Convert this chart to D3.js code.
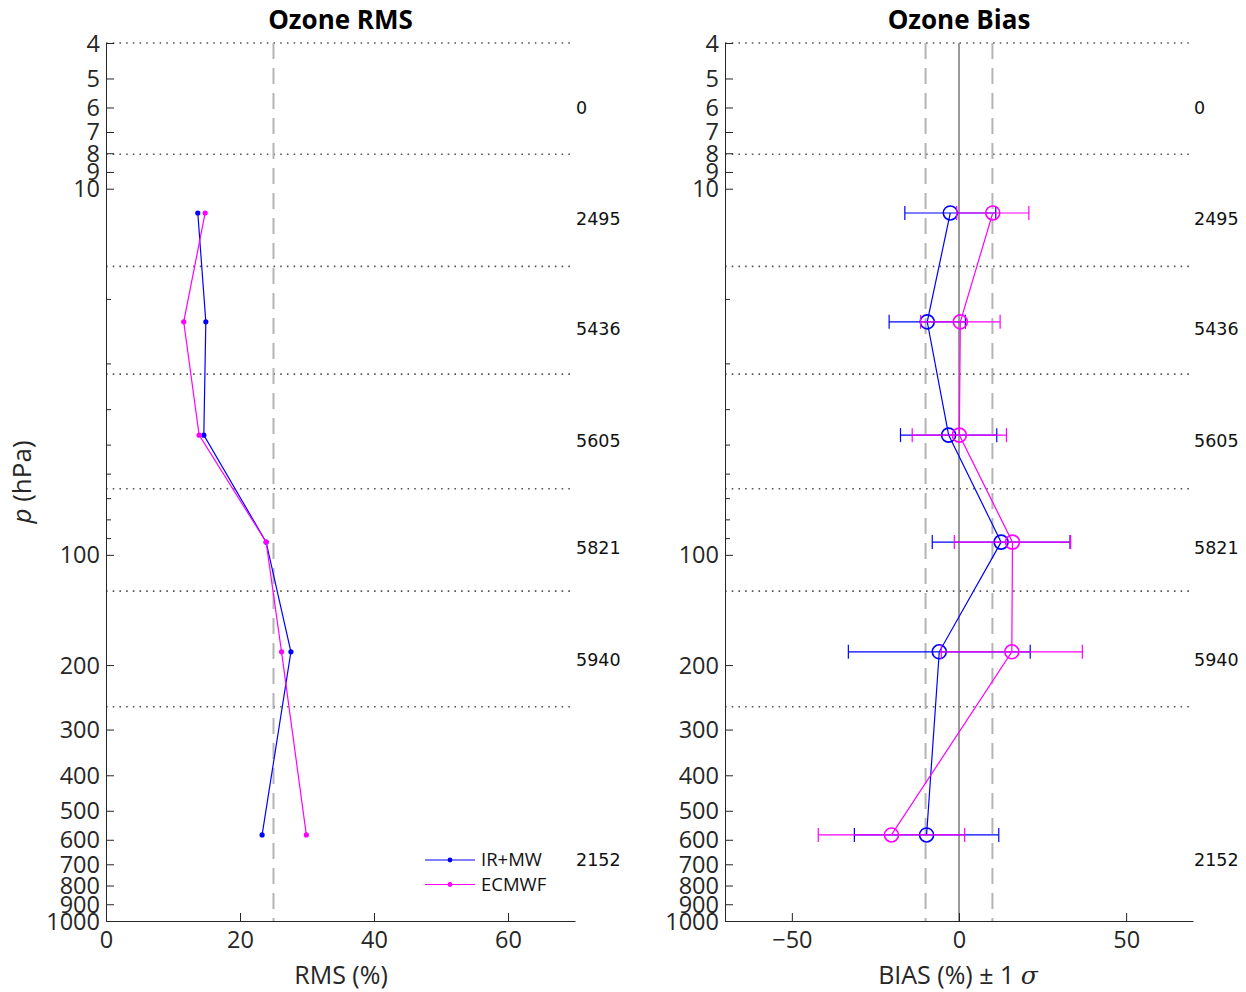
<!DOCTYPE html>
<html><head><meta charset="utf-8">
<script src="https://cdn.jsdelivr.net/npm/d3@7"></script>
<style>
body{margin:0;background:#fff}
text{font-family:"Open Sans",sans-serif;fill:#262626}
</style>
</head><body>
<svg id="c" width="1246" height="992"></svg>
<script>
// ---- data ----
const layerPressure = [11.65, 23.1, 47.1, 92.3, 184, 582];
const rmsIRMW  = [13.7, 14.9, 14.6, 23.9, 27.6, 23.3];
const rmsECMWF = [14.8, 11.6, 13.9, 23.9, 26.2, 29.9];
const biasIRMW   = [-2.6, -9.5, -3.1, 12.6, -5.9, -9.7];
const sigmaIRMW  = [13.6, 11.4, 14.4, 20.6, 27.2, 21.6];
const biasECMWF  = [10.1, 0.4, 0.1, 16.0, 15.8, -20.2];
const sigmaECMWF = [10.8, 11.9, 14.1, 17.4, 21.1, 21.9];
const layerBounds = [4, 8.05, 16.3, 32.1, 66, 125.6, 260];
const counts = ["0", "2495", "5436", "5605", "5821", "5940", "2152"];
const countPressure = [6, 12.1, 24.2, 48.9, 95.7, 193, 682];
const yTicks = [4,5,6,7,8,9,10,20,30,40,50,60,70,80,90,100,200,300,400,500,600,700,800,900,1000];
const yLabeled = [4,5,6,7,8,9,10,100,200,300,400,500,600,700,800,900,1000];
const rmsTicks = [0, 20, 40, 60];
const biasTicks = [-50, 0, 50];
const seriesNames = ["IR+MW", "ECMWF"];
const seriesColors = ["#0000ff", "#ff00ff"];

// ---- scales ----
const svg = d3.select("#c");
const y = d3.scaleLog().domain([4, 1000]).range([43, 921]);
const xL = d3.scaleLinear().domain([0, 70]).range([106, 575]);
const xR = d3.scaleLinear().domain([-70, 70]).range([725, 1193]);

function panel(x, ticks, title, refLines, solidZero) {
  const g = svg.append("g");
  const [x0, x1] = x.range();
  // dotted layer boundaries
  g.selectAll(".bd").data(layerBounds).enter().append("line")
    .attr("x1", x0).attr("x2", x1).attr("y1", d => y(d)).attr("y2", d => y(d))
    .attr("stroke", "#555").attr("stroke-width", 1.6).attr("stroke-dasharray", "1.6 5.1");
  // reference dashed lines
  g.selectAll(".rf").data(refLines).enter().append("line")
    .attr("x1", d => x(d)).attr("x2", d => x(d)).attr("y1", 43).attr("y2", 921)
    .attr("stroke", "#b4b4b4").attr("stroke-width", 2).attr("stroke-dasharray", "16 9");
  if (solidZero) {
    g.append("line").attr("x1", x(0)).attr("x2", x(0)).attr("y1", 43).attr("y2", 921)
      .attr("stroke", "#808080").attr("stroke-width", 1.6);
  }
  // y axis
  const ya = g.append("g").attr("transform", `translate(${x0},0)`)
    .call(d3.axisLeft(y).tickValues(yTicks)
      .tickFormat(d => yLabeled.includes(d) ? d : "")
      .tickSizeInner(-8).tickSizeOuter(0).tickPadding(6));
  ya.selectAll(".tick line").filter(d => !yLabeled.includes(d)).attr("x2", 5);
  ya.selectAll("text").style("font-size", "23.5px").attr("dy", "0.34em");
  // x axis
  const xa = g.append("g").attr("transform", "translate(0,921)")
    .call(d3.axisBottom(x).tickValues(ticks).tickFormat(d => d < 0 ? "\u2212" + Math.abs(d) : d)
      .tickSizeInner(-8).tickSizeOuter(0).tickPadding(10));
  xa.selectAll("text").style("font-size", "23.5px");
  [ya, xa].forEach(a => {
    a.select(".domain").attr("stroke", "#262626");
    a.selectAll(".tick line").attr("stroke", "#262626");
  });
  // title
  g.append("text").attr("x", (x0 + x1) / 2).attr("y", 29).attr("text-anchor", "middle")
    .style("font-size", "26px").style("font-weight", "bold").style("fill", "#000").text(title);
  // counts
  g.selectAll(".ct").data(counts).enter().append("text")
    .attr("x", x1 + 1).attr("y", (d, i) => y(countPressure[i])).attr("dy", "0.35em")
    .style("font-family", "'DejaVu Sans',sans-serif").style("font-size", "17.5px")
    .style("fill", "#111").text(d => d);
  return g;
}

// ---- left panel: RMS ----
const gL = panel(xL, rmsTicks, "Ozone RMS", [25], false);
[rmsIRMW, rmsECMWF].forEach((vals, k) => {
  const pts = vals.map((v, i) => [xL(v), y(layerPressure[i])]);
  gL.append("path").attr("d", d3.line()(pts)).attr("fill", "none")
    .attr("stroke", seriesColors[k]).attr("stroke-width", 1.2);
  gL.selectAll(null).data(pts).enter().append("circle")
    .attr("cx", d => d[0]).attr("cy", d => d[1]).attr("r", 2.6).attr("fill", seriesColors[k]);
});
gL.append("text").attr("x", 0).attr("y", 0)
  .attr("transform", "translate(31,482) rotate(-90)").attr("text-anchor", "middle")
  .style("font-size", "26px")
  .call(t => { t.append("tspan").style("font-style", "italic").text("p"); t.append("tspan").text(" (hPa)"); });
gL.append("text").attr("x", 341).attr("y", 984).attr("text-anchor", "middle")
  .style("font-size", "25px").text("RMS (%)");
// legend
seriesNames.forEach((n, k) => {
  const ly = 860 + k * 24.5;
  gL.append("line").attr("x1", 425).attr("x2", 475).attr("y1", ly).attr("y2", ly)
    .attr("stroke", seriesColors[k]).attr("stroke-width", 1.2);
  gL.append("circle").attr("cx", 450).attr("cy", ly).attr("r", 2.4).attr("fill", seriesColors[k]);
  gL.append("text").attr("x", 481).attr("y", ly).attr("dy", "0.35em")
    .style("font-size", "18.5px").style("fill", "#111").text(n);
});

// ---- right panel: Bias ----
const gR = panel(xR, biasTicks, "Ozone Bias", [-10, 10], true);
[[biasIRMW, sigmaIRMW], [biasECMWF, sigmaECMWF]].forEach(([b, s], k) => {
  const c = seriesColors[k];
  b.forEach((v, i) => {
    const yy = y(layerPressure[i]);
    const lo = xR(v - s[i]), hi = xR(v + s[i]);
    gR.append("line").attr("x1", lo).attr("x2", hi).attr("y1", yy).attr("y2", yy)
      .attr("stroke", c).attr("stroke-width", 1.2);
    [lo, hi].forEach(xx => gR.append("line").attr("x1", xx).attr("x2", xx)
      .attr("y1", yy - 7).attr("y2", yy + 7).attr("stroke", c).attr("stroke-width", 1.2));
  });
  const pts = b.map((v, i) => [xR(v), y(layerPressure[i])]);
  gR.append("path").attr("d", d3.line()(pts)).attr("fill", "none")
    .attr("stroke", c).attr("stroke-width", 1.2);
  gR.selectAll(null).data(pts).enter().append("circle")
    .attr("cx", d => d[0]).attr("cy", d => d[1]).attr("r", 7)
    .attr("fill", "none").attr("stroke", c).attr("stroke-width", 1.6);
});
gR.append("text").attr("x", 958).attr("y", 984).attr("text-anchor", "middle")
  .style("font-size", "25px")
  .call(t => {
    t.append("tspan").text("BIAS (%) \u00b1 1 ");
    t.append("tspan").style("font-family", "'DejaVu Serif',serif").style("font-style", "italic").text("\u03c3");
  });
</script>
</body></html>
